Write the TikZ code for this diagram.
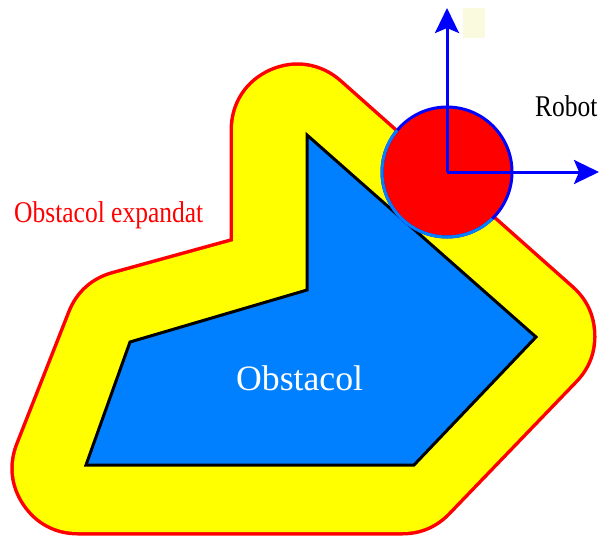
\documentclass[tikz,border=0pt]{standalone}
\usepackage{fontspec}
\setmainfont{Liberation Serif}
\usetikzlibrary{arrows.meta, positioning}
\definecolor{obsblue}{RGB}{0,128,255}
\definecolor{padyellow}{RGB}{255,255,0}
\definecolor{tagpale}{RGB}{250,250,222}
\newcommand{\tallword}[1]{\scalebox{1}[1.18]{#1}}

\begin{document}
\begin{tikzpicture}[
  x=1pt, y=-1pt,
  rim/.style={red, fill=red, line width=135pt, line join=round},
  pad/.style={padyellow, fill=padyellow, line width=128pt, line join=round},
  obstacle/.style={fill=obsblue, draw=black, line width=3pt},
  robotdisc/.style={circle, fill=red, draw=blue, line width=3pt, minimum size=130pt, inner sep=0pt},
  axis/.style={blue, line width=3pt, -{Stealth[length=25pt, width=24pt, inset=5pt]}},
  lbl/.style={inner sep=0pt, anchor=base west, font=\fontsize{25.5}{30}\selectfont},
]
\useasboundingbox (0,0) rectangle (601,536);

% core polygon of the expanded obstacle (grown by the robot radius)
\coordinate (c1) at (297,130);
\coordinate (c2) at (529,336);
\coordinate (c3) at (402,468);
\coordinate (c4) at (78,468);
\coordinate (c5) at (130,336);
\coordinate (c6) at (297,290);

% expanded obstacle: red rim, then yellow
\draw[rim] (c1) -- (c2) -- (c3) -- (c4) -- (c5) -- (c6) -- cycle;
\draw[pad] (c1) -- (c2) -- (c3) -- (c4) -- (c5) -- (c6) -- cycle;

% obstacle
\draw[obstacle] (307,135) -- (536,337) -- (414,465) -- (86,465)
  -- (130,342) -- (307,290) -- cycle;
\node[lbl, white, font=\fontsize{35.7}{40}\selectfont] (obslabel) at (236,390) {Obstacol};

% robot
\node[robotdisc] (robot) at (447,172) {};
\draw[obsblue, line width=3pt] (robot.center) ++(-140:65)
  arc[start angle=-140, end angle=-314, radius=65];

% robot frame
\coordinate (yend) at (447,8);
\coordinate (xend) at (599,172);
\draw[axis] (robot.center) -- (yend);
\draw[axis] (robot.center) -- (xend);
\fill[tagpale] (463,8) rectangle (485,38);

% labels
\node[lbl] (robotlabel) at (535,116) {\tallword{Robot}};
\node[lbl, red] (explabel) at (14,222) {\tallword{Obstacol expandat}};

\end{tikzpicture}
\end{document}
